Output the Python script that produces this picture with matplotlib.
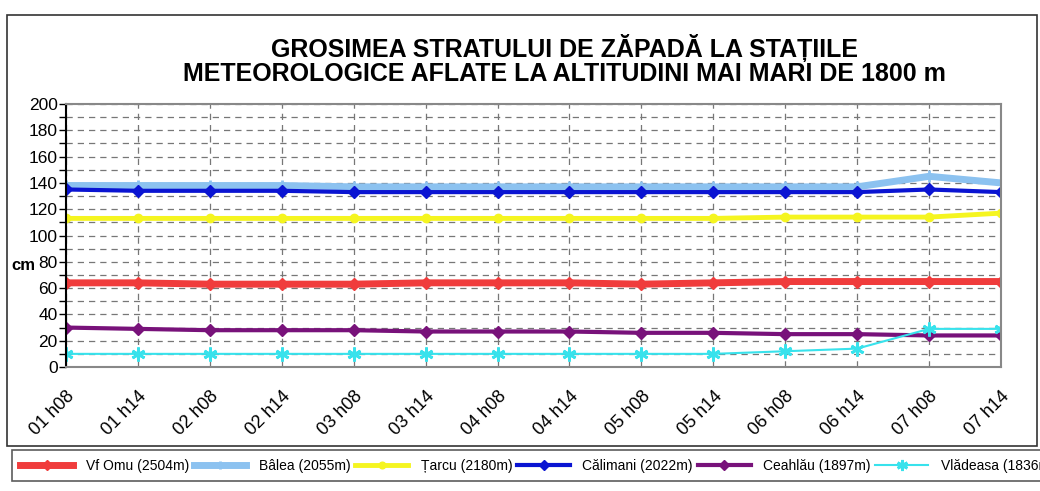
import matplotlib.pyplot as plt
from matplotlib.patches import Rectangle
from matplotlib.transforms import ScaledTranslation

plt.rcParams['font.family'] = ['Liberation Sans', 'DejaVu Sans']

# etichete ore observatie
labels = ['01 h08', '01 h14', '02 h08', '02 h14', '03 h08', '03 h14', '04 h08',
          '04 h14', '05 h08', '05 h14', '06 h08', '06 h14', '07 h08', '07 h14']

# grosimea stratului de zapada (cm)
vf_omu = [64, 64, 63, 63, 63, 64, 64, 64, 63, 64, 65, 65, 65, 65]
balea = [138, 138, 138, 138, 137, 137, 137, 137, 137, 137, 137, 137, 145, 140]
tarcu = [113, 113, 113, 113, 113, 113, 113, 113, 113, 113, 114, 114, 114, 117]
calimani = [135, 134, 134, 134, 133, 133, 133, 133, 133, 133, 133, 133, 135, 133]
ceahlau = [30, 29, 28, 28, 28, 27, 27, 27, 26, 26, 25, 25, 24, 24]
vladeasa = [10, 10, 10, 10, 10, 10, 10, 10, 10, 10, 12, 14, 29, 29]

series = [
    ('Vf Omu (2504m)', vf_omu, '#f03c3c', 5, 'D', 6),
    ('Bâlea (2055m)', balea, '#8cc2f0', 5, '+', 8),
    ('Țarcu (2180m)', tarcu, '#f5f520', 3.5, 'o', 6),
    ('Călimani (2022m)', calimani, '#0a14d2', 3, 'D', 6),
    ('Ceahlău (1897m)', ceahlau, '#78127a', 3, 'D', 6),
    ('Vlădeasa (1836m)', vladeasa, '#38e2ec', 1.5, (6, 2, 0), 10),
]

fig = plt.figure(figsize=(10.4, 4.91), dpi=100)
ax = fig.add_axes([0.0635, 0.2525, 0.899, 0.5357])

x = list(range(len(labels)))
for name, vals, col, lw, mk, ms in series:
    ax.plot(x, vals, color=col, lw=lw, marker=mk, markersize=ms,
            markeredgewidth=2 if mk in ('+', (6, 2, 0)) else 1, label=name)

ax.set_xlim(0, len(labels) - 1)
ax.set_ylim(0, 200)
ax.set_yticks(range(0, 201, 20))
ax.set_yticks(range(0, 201, 10), minor=True)
ax.set_xticks(x)
ax.set_xticklabels(labels, rotation=45, ha='right', va='top',
                   rotation_mode='anchor', fontsize=13)
off = ScaledTranslation(7 / 100, 0, fig.dpi_scale_trans)
for t in ax.get_xticklabels():
    t.set_transform(t.get_transform() + off)
ax.tick_params(axis='y', labelsize=12.5, pad=1, length=5, width=1)
ax.tick_params(axis='y', which='minor', length=5, width=1)
ax.tick_params(axis='x', length=0, pad=15)

ax.grid(True, which='both', axis='y', color='#777777', ls=(0, (5, 4)), lw=0.9)
ax.grid(True, axis='x', color='#777777', ls=(0, (5, 4)), lw=0.9)
ax.set_axisbelow(True)
for s in ['top', 'right', 'bottom']:
    ax.spines[s].set_color('#888888')
    ax.spines[s].set_linewidth(1.5)
ax.spines['left'].set_color('black')
ax.spines['left'].set_linewidth(1.5)

fig.text(0.011, 0.46, 'cm', fontsize=12, fontweight='bold', va='center')

fig.text(0.543, 0.878, 'GROSIMEA STRATULUI DE ZĂPADĂ LA STAȚIILE\n'
         'METEOROLOGICE AFLATE LA ALTITUDINI MAI MARI DE 1800 m',
         ha='center', va='center', fontsize=18, fontweight='bold', linespacing=0.98)

# chenar exterior
fig.add_artist(Rectangle((0.0067, 0.0916), 0.99, 0.878, transform=fig.transFigure,
                         fill=False, ec='#333333', lw=1.2))

leg = fig.legend(loc='lower left', bbox_to_anchor=(0.0115, 0.0204), ncol=6,
                 fontsize=10, handlelength=3.8, handletextpad=0.9,
                 columnspacing=0.35, fancybox=False, edgecolor='#333333',
                 borderpad=0.6, borderaxespad=0, markerscale=0.8)
leg.get_frame().set_linewidth(1.2)

fig.savefig('out.png', dpi=100)
